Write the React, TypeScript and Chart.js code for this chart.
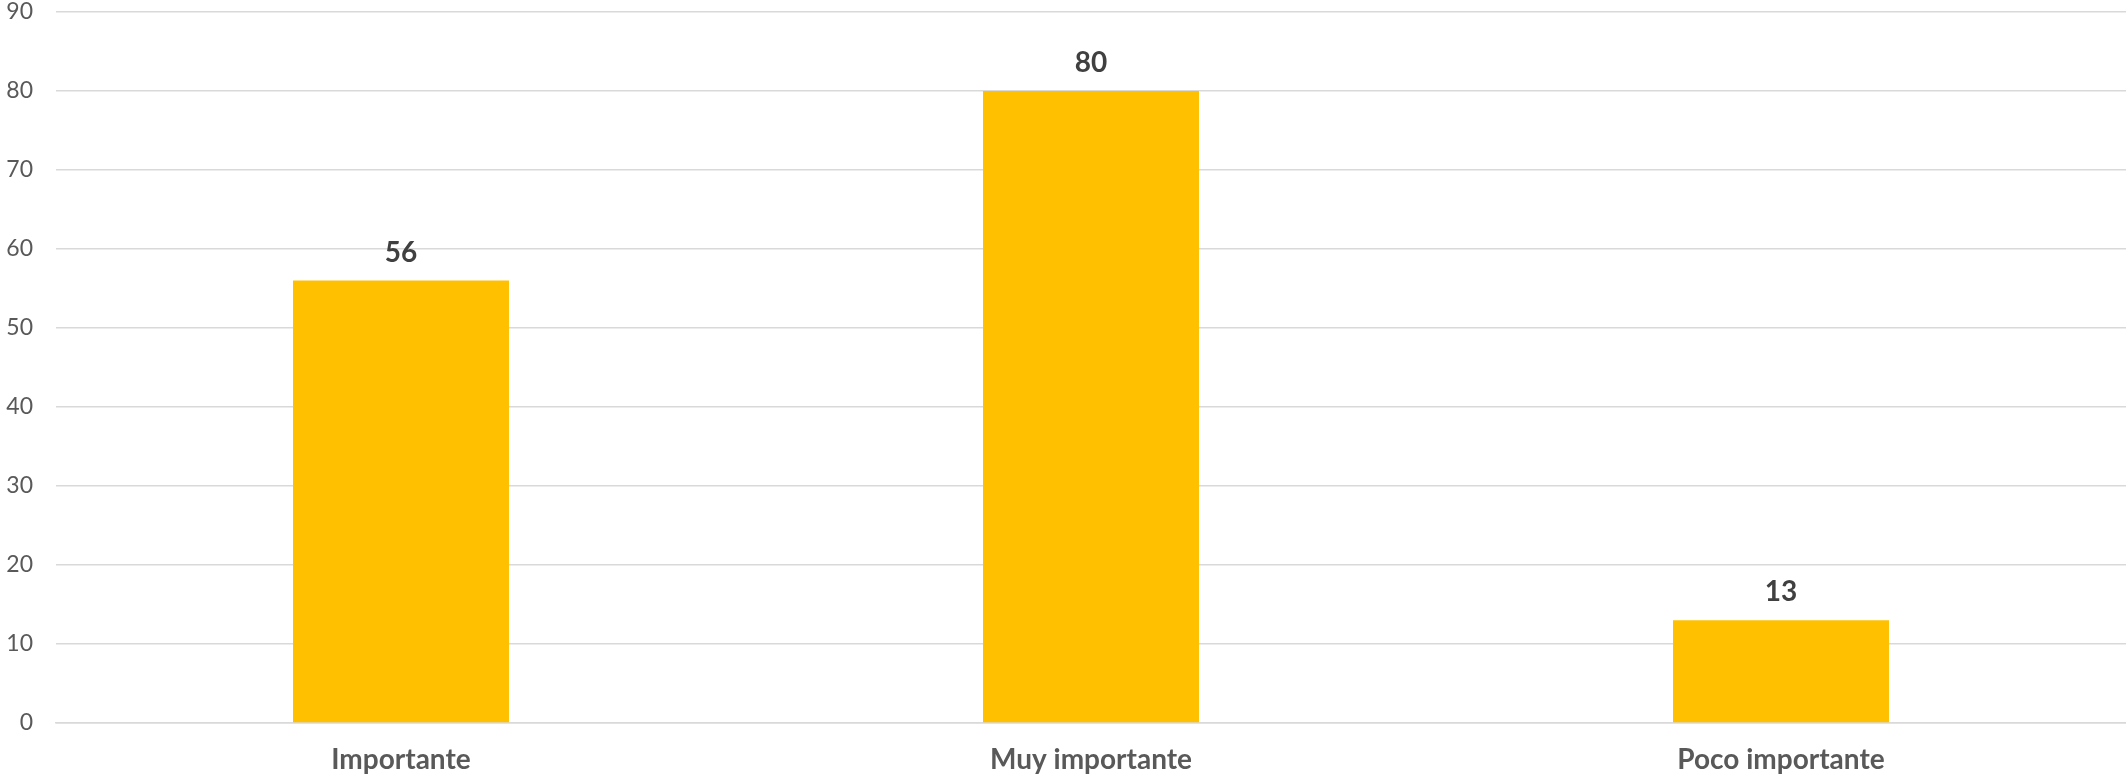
import React, { useEffect, useRef } from "react";
import { Chart, registerables } from "chart.js";

Chart.register(...registerables);

const categories = ["Importante", "Muy importante", "Poco importante"];
const values = [56, 80, 13];
const yMax = 90;
const yStep = 10;

const FONT = "Lato, 'Open Sans', 'Noto Sans', sans-serif";

const valueLabels = {
  id: "valueLabels",
  afterDatasetsDraw(chart: any) {
    const ctx = chart.ctx;
    const meta = chart.getDatasetMeta(0);
    ctx.save();
    ctx.font = `bold 28px ${FONT}`;
    ctx.fillStyle = "#404040";
    ctx.textAlign = "center";
    ctx.textBaseline = "alphabetic";
    meta.data.forEach((bar: any, i: number) => {
      ctx.fillText(String(values[i]), bar.x, bar.y - 19);
    });
    ctx.restore();
  },
};

export default function App() {
  const ref = useRef<HTMLCanvasElement>(null);
  useEffect(() => {
    document.body.style.margin = "0";
    const chart = new Chart(ref.current!, {
      type: "bar",
      data: {
        labels: categories,
        datasets: [
          {
            data: values,
            backgroundColor: "#FFC000",
            barPercentage: 0.626,
            categoryPercentage: 0.5,
          },
        ],
      },
      options: {
        animation: false,
        responsive: false,
        maintainAspectRatio: false,
        layout: { padding: { top: 12, right: 0, left: 0, bottom: 0 } },
        plugins: { legend: { display: false }, tooltip: { enabled: false } },
        scales: {
          x: {
            grid: { display: false, drawTicks: false },
            border: { display: true, color: "#d9d9d9", width: 1.5 },
            ticks: {
              color: "#595959",
              font: { family: FONT, size: 28, weight: "bold" },
              padding: 20,
            },
            afterFit(scale: any) {
              scale.height = 52;
              scale.paddingLeft = 0;
              scale.paddingRight = 0;
            },
          },
          y: {
            min: 0,
            max: yMax,
            grid: { color: "#d9d9d9", lineWidth: 1.5, drawTicks: false },
            border: { display: false },
            ticks: {
              stepSize: yStep,
              color: "#595959",
              font: { family: FONT, size: 23 },
              padding: 23,
            },
            afterFit(scale: any) {
              scale.width = 56;
              scale.paddingTop = 0;
              scale.paddingBottom = 0;
            },
          },
        },
      },
      plugins: [valueLabels],
    });
    return () => chart.destroy();
  }, []);
  return (
    <div style={{ width: 2126, height: 775 }}>
      <canvas ref={ref} width={2126} height={775} style={{ display: "block" }} />
    </div>
  );
}
